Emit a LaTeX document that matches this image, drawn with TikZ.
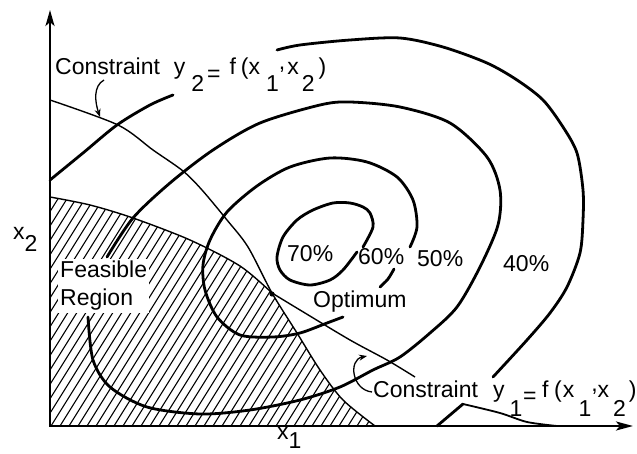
\documentclass[tikz,border=0pt]{standalone}
\usepackage{fontspec}
\setmainfont{Liberation Sans}
\usepackage{tikz}
\usetikzlibrary{arrows.meta}

\newcommand{\dn}[2][0.72em]{\raisebox{-#1}{#2}}
\newcommand{\loweq}{\raisebox{-0.3em}{=}}
\newcommand{\hicomma}{\raisebox{0.26em}{,}}

\begin{document}
\begin{tikzpicture}[
    x=1pt, y=-1pt,
    contour/.style={line width=2.8pt, line cap=round, line join=round},
    constraint/.style={line width=1.4pt},
    hatch/.style={line width=1.1pt},
    axis/.style={line width=2.4pt, {Stealth[length=16pt,width=9pt,inset=4pt]}-{Stealth[length=17pt,width=9pt,inset=4pt]}},
    pointer/.style={line width=1.3pt, -{Stealth[length=8pt,width=6pt]}},
    lbl/.style={font=\fontsize{23}{28}\selectfont, inner sep=0pt}
]
\useasboundingbox (0,0) rectangle (637,454);

% feasible region
\begin{scope}
\clip (50,426) -- (50,197)
    -- plot[smooth] coordinates {(50,197) (90,205) (133,218) (190,240) (240,266) (272,293)}
    -- plot[smooth] coordinates {(272,293) (297,333) (320,370) (343,400) (375,426)}
    -- cycle;
\foreach \k in {0,...,66}
    \draw[hatch] ({-210+9*\k},426) -- ++(250,-400);
\end{scope}

% constraint y2
\draw[constraint] plot[smooth] coordinates {(50,100) (118,125) (153,150) (183,171) (202,190) (227,220) (248,247) (272,293) (297,333) (320,370) (343,400) (375,426)};
% constraint y1
\draw[constraint] plot[smooth] coordinates {(50,197) (90,205) (133,218) (190,240) (240,266) (272,293)};
\draw[constraint] plot[smooth] coordinates {(272,293) (300,310) (350,340) (387,360) (415,377)};

% 70%
\draw[contour] plot[smooth] coordinates {(357,252) (343,270) (330,280) (310,285) (290,280) (280,270) (277,257) (283,237) (297,220) (313,210) (333,203) (350,203) (363,207) (370,213) (373,227) (363,247)};
% 60%
\draw[contour] plot[smooth] coordinates {(343,317) (327,323) (300,333) (273,337) (240,335) (217,317) (205,290) (203,265) (210,240) (227,212) (257,186) (290,167) (330,158) (367,162) (397,177) (413,200) (417,227) (410,247)};
\draw[contour] plot[smooth] coordinates {(394,269) (388,279) (380,287)};
% 50%
\draw[contour] plot[smooth] coordinates {(107,257) (133,218) (170,183) (213,150) (260,123) (320,105) (350,102) (400,107) (450,123) (487,157) (500,190) (498,225) (480,267) (457,307) (430,333) (400,357) (373,370) (340,387) (300,400) (250,410) (200,414) (147,407) (110,387) (93,360) (88,317)};
% 40%
\draw[contour] plot[smooth] coordinates {(50,180) (83,153) (117,125) (150,105) (173,95)};
\draw[contour] plot[smooth] coordinates {(277,50) (300,45) (350,40) (400,38) (443,47) (487,63) (517,80) (543,100) (563,127) (577,153) (583,190) (583,220) (580,253) (567,287) (550,313) (527,340) (493,377)};
\draw[contour] (437,426) -- (463,404);
\draw[line width=1.8pt] plot[smooth] coordinates {(463,404) (500,413) (527,422) (557,426)};

% axes
\coordinate (orig) at (50,426);
\coordinate (ytop) at (50,10);
\coordinate (xend) at (633,426);
\draw[axis] (ytop) -- (orig) -- (xend);

% optimum
\coordinate (optpt) at (272,294);
\fill (optpt) circle[radius=2.6pt];

% labels
\node[lbl, anchor=base west] (ctwo) at (55,75)
    {Constraint\hspace{13.8pt}y\kern6pt\dn{2}\kern3pt\loweq\kern9pt f\kern5pt(x\kern6pt\dn{1}\hicomma\kern2pt x\kern3pt\dn{2}\kern4pt)};
\node[lbl, anchor=base west] (cone) at (373,397)
    {Constraint\hspace{15pt}y\kern5pt\dn[0.85em]{1}\kern0.7pt\loweq\kern5.6pt f\kern5.6pt(\kern1.3pt x\kern4pt\dn[0.85em]{1}\hicomma x\kern4pt\dn[0.85em]{2}\kern3pt)};
\node[lbl, anchor=base west] (xtwo) at (13,240) {x\dn[0.5em]{2}};
\node[lbl, anchor=base west] (xone) at (277,439) {x\dn[0.4em]{1}};
\node[lbl, anchor=north west, fill=white, inner sep=2pt, align=left] (feas) at (58,259) {Feasible\\Region};
\node[lbl, anchor=base west] (pseventy) at (287,262) {70\%};
\node[lbl, anchor=base west] (psixty) at (358,265) {60\%};
\node[lbl, anchor=base west] (pfifty) at (417,267) {50\%};
\node[lbl, anchor=base west] (pforty) at (503,272) {40\%};
\node[lbl, anchor=base west] (opt) at (313,308) {Optimum};

% pointers to the constraints
\coordinate (ctwotail) at (104,80);
\coordinate (ctwotip) at (100,117);
\coordinate (conetail) at (372,392);
\coordinate (conetip) at (367,356);
\draw[pointer] (ctwotail) .. controls (93,86) and (95,102) .. (ctwotip);
\draw[pointer] (conetail) .. controls (352,390) and (348,360) .. (conetip);
\end{tikzpicture}
\end{document}
